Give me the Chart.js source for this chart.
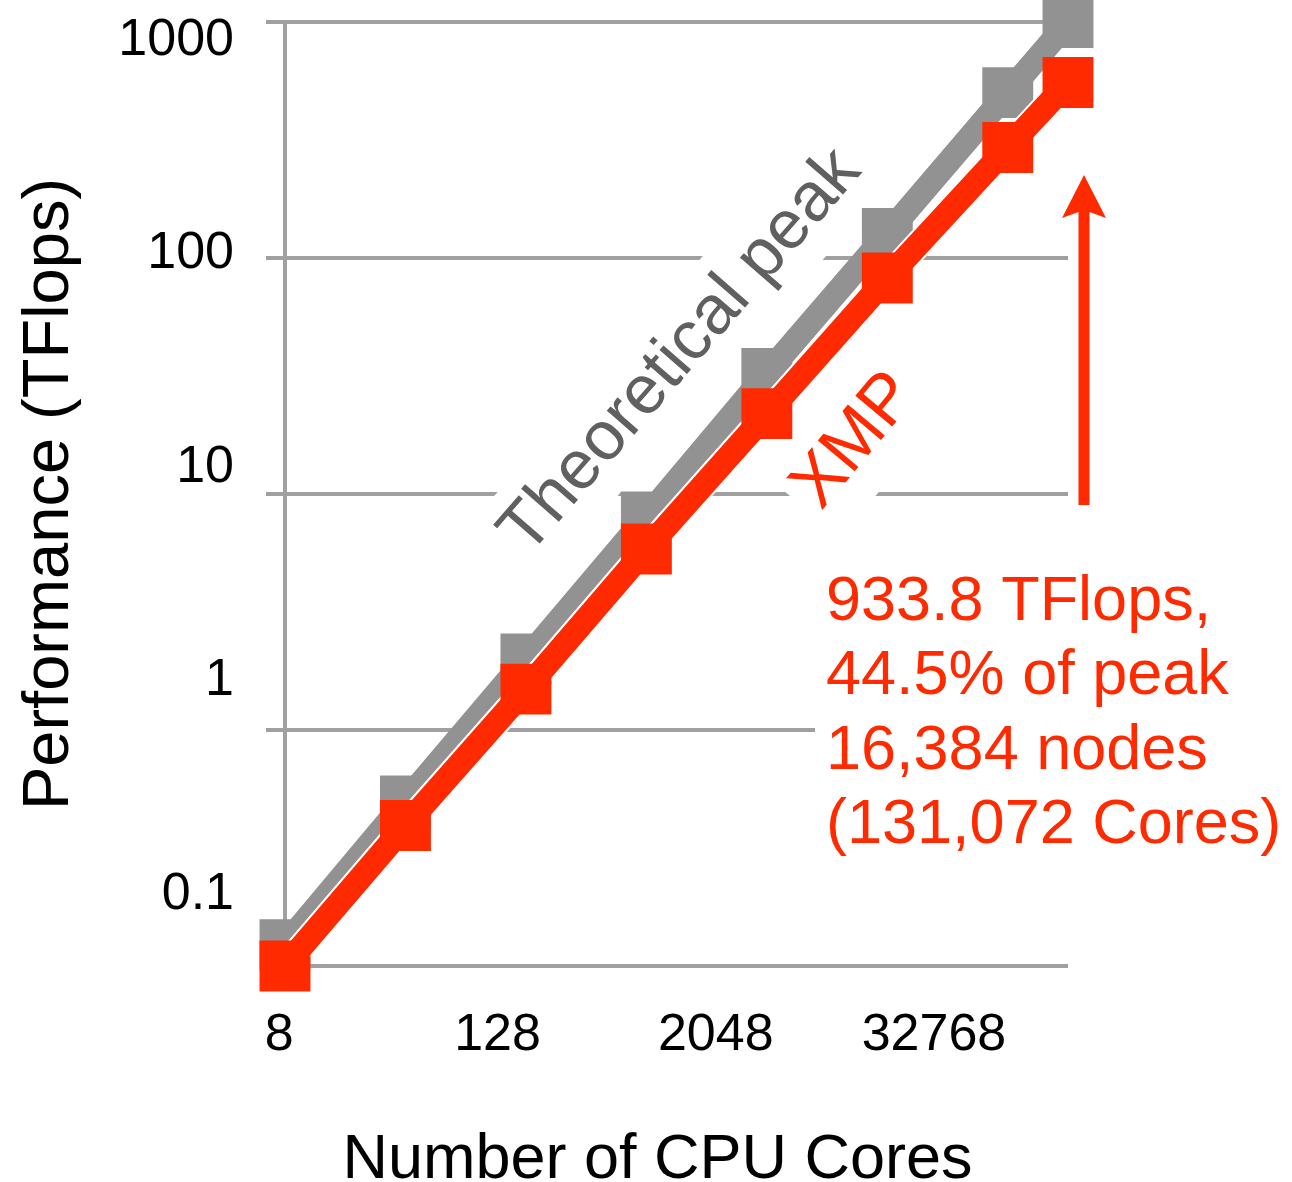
<!DOCTYPE html>
<html>
<head>
<meta charset="utf-8">
<script src="https://cdn.jsdelivr.net/npm/chart.js@4.4.1/dist/chart.umd.min.js"></script>
<style>
html, body { margin: 0; padding: 0; background: #ffffff; }
#wrap { position: relative; width: 1292px; height: 1182px; }
</style>
</head>
<body>
<div id="wrap"><canvas id="c"></canvas></div>
<script>
// ---- data ----
const cores = [8, 32, 128, 512, 2048, 8192, 32768, 65536];
const peakTFlops = [0.123, 0.50, 2.0, 8.0, 32.4, 127, 502, 995];
const xmpTFlops = [0.100, 0.394, 1.49, 5.85, 21.9, 82.3, 294, 554];
const seriesNames = ['Theoretical peak', 'XMP'];
const xTickValues = [8, 128, 2048, 32768];
const xTickLabels = ['8', '128', '2048', '32768'];
const yTickValues = [0.1, 1, 10, 100, 1000];
const yTickLabels = ['0.1', '1', '10', '100', '1000'];
const xTitle = 'Number of CPU Cores';
const yTitle = 'Performance (TFlops)';
const noteLines = ['933.8 TFlops,', '44.5% of peak', '16,384 nodes', '(131,072 Cores)'];

// ---- styles ----
const FONT = "'Liberation Sans', Arial, Helvetica, sans-serif";
const GRAY = '#929292';
const RED = '#ff2a00';
const GRID = '#a0a0a0';
const LABEL_GRAY = '#606060';

// The reference prints its tick labels on a slightly compressed copy of
// each axis; these label-only axes reproduce that placement.
const X_LABEL_RANGE = [8.6, 180000];
const Y_LABEL_RANGE = [0.0462, 1218];

Chart.defaults.font.family = FONT;
Chart.defaults.color = '#000000';

function whiteBox(ctx, text, cx, cy, deg, size, padX, padY) {
  ctx.save();
  ctx.font = size + 'px ' + FONT;
  const w = ctx.measureText(text).width;
  ctx.translate(cx, cy);
  ctx.rotate(deg * Math.PI / 180);
  ctx.fillStyle = '#ffffff';
  ctx.fillRect(-w / 2 - padX, -size / 2 - padY, w + 2 * padX, size + 2 * padY);
  ctx.restore();
}
function rotText(ctx, text, cx, cy, deg, size, color) {
  ctx.save();
  ctx.font = size + 'px ' + FONT;
  ctx.fillStyle = color;
  ctx.textAlign = 'center';
  ctx.textBaseline = 'middle';
  ctx.translate(cx, cy);
  ctx.rotate(deg * Math.PI / 180);
  ctx.fillText(text, 0, 0);
  ctx.restore();
}

const notes = {
  peak: { x: 681, y: 352, angle: -49, size: 69, padX: 6, padY: 12 },
  xmp: { x: 855, y: 441, angle: -50, size: 70, padX: 8, padY: 16 },
  block: { left: 826, firstBaseline: 620, lineStep: 74.4, size: 63, box: [815, 560, 1292, 870] },
  arrow: { dx: 16, tailY: 505, tipY: 175, shaft: 11, headW: 44, headH: 43, notch: 8 },
  xTitle: { x: 657.5, baseline: 1178, size: 63 }
};

const decor = {
  id: 'decor',
  beforeDatasetsDraw(chart) {
    const ctx = chart.ctx;
    whiteBox(ctx, seriesNames[0], notes.peak.x, notes.peak.y, notes.peak.angle, notes.peak.size, notes.peak.padX, notes.peak.padY);
    whiteBox(ctx, seriesNames[1], notes.xmp.x, notes.xmp.y, notes.xmp.angle, notes.xmp.size, notes.xmp.padX, notes.xmp.padY);
    const b = notes.block.box;
    ctx.save();
    ctx.fillStyle = '#ffffff';
    ctx.fillRect(b[0], b[1], b[2] - b[0], b[3] - b[1]);
    ctx.restore();
  },
  beforeDatasetDraw(chart, args) {
    // thin white edge along the XMP line (as in the reference)
    if (args.index !== 1) return;
    const line = chart.getDatasetMeta(1).dataset;
    const saved = line.options;
    line.options = Object.assign({}, saved, { borderColor: '#ffffff', borderWidth: saved.borderWidth + 4 });
    line.draw(chart.ctx, chart.chartArea);
    line.options = saved;
  },
  afterDatasetsDraw(chart) {
    const ctx = chart.ctx;
    rotText(ctx, seriesNames[0], notes.peak.x, notes.peak.y, notes.peak.angle, notes.peak.size, LABEL_GRAY);
    rotText(ctx, seriesNames[1], notes.xmp.x, notes.xmp.y, notes.xmp.angle, notes.xmp.size, RED);

    // note block
    ctx.save();
    ctx.font = notes.block.size + 'px ' + FONT;
    ctx.fillStyle = RED;
    ctx.textAlign = 'left';
    ctx.textBaseline = 'alphabetic';
    noteLines.forEach((t, i) => ctx.fillText(t, notes.block.left, notes.block.firstBaseline + i * notes.block.lineStep));
    ctx.restore();

    // arrow pointing at the last XMP point
    const a = notes.arrow;
    const ax = chart.scales.x.getPixelForValue(cores[cores.length - 1]) + a.dx;
    ctx.save();
    ctx.fillStyle = RED;
    ctx.fillRect(ax - a.shaft / 2, a.tipY + a.headH - a.notch, a.shaft, a.tailY - (a.tipY + a.headH - a.notch));
    ctx.beginPath();
    ctx.moveTo(ax, a.tipY);
    ctx.lineTo(ax + a.headW / 2, a.tipY + a.headH);
    ctx.lineTo(ax, a.tipY + a.headH - a.notch);
    ctx.lineTo(ax - a.headW / 2, a.tipY + a.headH);
    ctx.closePath();
    ctx.fill();
    ctx.restore();

    // x axis title
    ctx.save();
    ctx.font = notes.xTitle.size + 'px ' + FONT;
    ctx.fillStyle = '#000000';
    ctx.textAlign = 'center';
    ctx.textBaseline = 'alphabetic';
    ctx.fillText(xTitle, notes.xTitle.x, notes.xTitle.baseline);
    ctx.restore();
  }
};

const toPoints = (ys) => cores.map((c, i) => ({ x: c, y: ys[i] }));

new Chart(document.getElementById('c'), {
  type: 'line',
  data: {
    datasets: [
      {
        label: seriesNames[0],
        data: toPoints(peakTFlops),
        borderColor: GRAY,
        backgroundColor: GRAY,
        borderWidth: 24,
        pointStyle: 'rect',
        pointRadius: 36,
        pointBorderWidth: 0,
        pointBackgroundColor: GRAY,
        clip: false,
        order: 2
      },
      {
        label: seriesNames[1],
        data: toPoints(xmpTFlops),
        borderColor: RED,
        backgroundColor: RED,
        borderWidth: 24,
        pointStyle: 'rect',
        pointRadius: 36,
        pointBorderWidth: 0,
        pointBackgroundColor: RED,
        clip: false,
        order: 1
      }
    ]
  },
  options: {
    responsive: true,
    maintainAspectRatio: false,
    animation: false,
    events: [],
    layout: { autoPadding: false, padding: { left: 0, top: 22, right: 224, bottom: 0 } },
    plugins: { legend: { display: false }, tooltip: { enabled: false } },
    scales: {
      x: {
        type: 'logarithmic',
        position: 'bottom',
        min: cores[0],
        max: cores[cores.length - 1],
        display: false
      },
      xLab: {
        type: 'logarithmic',
        position: 'bottom',
        min: X_LABEL_RANGE[0],
        max: X_LABEL_RANGE[1],
        grid: { display: false, drawTicks: false },
        border: { display: false },
        afterBuildTicks: (s) => { s.ticks = xTickValues.map(v => ({ value: v })); },
        ticks: {
          callback: (v, i) => xTickLabels[i],
          font: { size: 52, lineHeight: 1.2 },
          color: '#000000',
          padding: 38,
          autoSkip: false,
          maxRotation: 0,
          minRotation: 0
        },
        afterFit: (s) => { s.height = 216; s.paddingLeft = 0; s.paddingRight = 0; }
      },
      y: {
        type: 'logarithmic',
        position: 'left',
        min: yTickValues[0],
        max: yTickValues[yTickValues.length - 1],
        grid: { color: GRID, lineWidth: 4, drawTicks: true, tickLength: 19 },
        border: { display: true, color: GRID, width: 4 },
        ticks: { display: false },
        afterBuildTicks: (s) => { s.ticks = yTickValues.map(v => ({ value: v })); },
        afterFit: (s) => { s.width = 19; s.paddingTop = 0; s.paddingBottom = 0; }
      },
      yLab: {
        type: 'logarithmic',
        position: 'left',
        min: Y_LABEL_RANGE[0],
        max: Y_LABEL_RANGE[1],
        grid: { display: false, drawTicks: false },
        border: { display: false },
        afterBuildTicks: (s) => { s.ticks = yTickValues.map(v => ({ value: v })); },
        ticks: {
          callback: (v, i) => yTickLabels[i],
          font: { size: 52, lineHeight: 1.2 },
          color: '#000000',
          padding: 32,
          autoSkip: false
        },
        title: {
          display: true,
          text: yTitle,
          color: '#000000',
          font: { size: 65, lineHeight: 1.2 },
          padding: { top: 11, bottom: 0 }
        },
        afterFit: (s) => { s.width = 266; s.paddingTop = 0; s.paddingBottom = 0; }
      }
    }
  },
  plugins: [decor]
});
</script>
</body>
</html>
